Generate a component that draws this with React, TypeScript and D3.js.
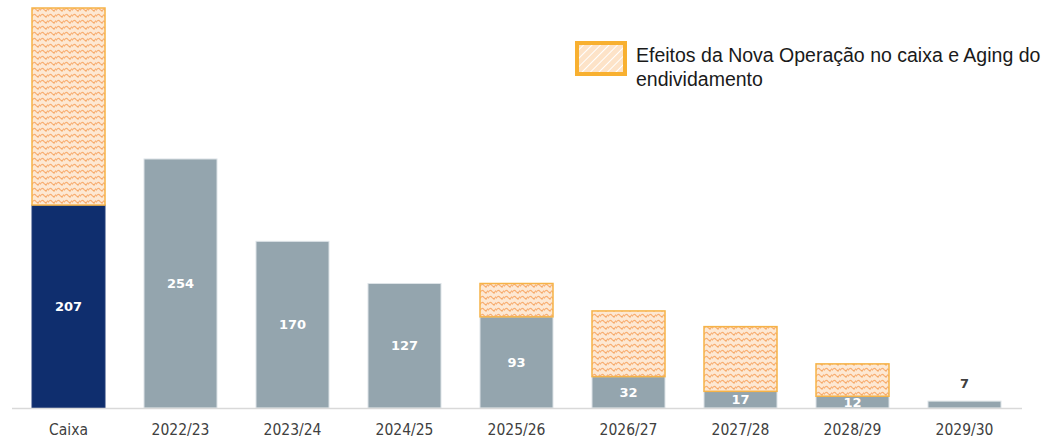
import React from "react";
import * as d3 from "d3";

const categories = ["Caixa", "2022/23", "2023/24", "2024/25", "2025/26", "2026/27", "2027/28", "2028/29", "2029/30"];
const baseValues = [207, 254, 170, 127, 93, 32, 17, 12, 7];
const effectValues = [201, 0, 0, 0, 34, 67, 66, 33, 0];
const legendLines = ["Efeitos da Nova Operação no caixa e Aging do", "endividamento"];

const W = 1048;
const H = 439;
const baseline = 408;

export default function App() {
  const x = d3
    .scaleBand<string>()
    .domain(categories)
    .range([12.5, 12.5 + 9 * 112])
    .paddingInner(39 / 112)
    .paddingOuter(39 / 224);
  const y = d3.scaleLinear().domain([0, 408]).range([baseline, 8]);
  const bw = x.bandwidth();

  return (
    <svg
      width={W}
      height={H}
      style={{ position: "absolute", left: 0, top: 0, display: "block", background: "#fff" }}
    >
      <defs>
        <pattern id="wavy" width="8" height="6" patternUnits="userSpaceOnUse">
          <rect width="8" height="6" fill="#fde8d3" />
          <path d="M0,4.5 Q2,1 4,3.5 T8,2.5" fill="none" stroke="#f8ad70" strokeWidth="1.2" />
          <rect x="5.5" y="4.5" width="1.1" height="1.1" fill="#f39a4c" />
        </pattern>
        <pattern id="legendHatch" width="6" height="6" patternUnits="userSpaceOnUse" patternTransform="rotate(45)">
          <rect width="6" height="6" fill="#fde3c8" />
          <line x1="0" y1="0" x2="0" y2="6" stroke="#ffffff" strokeWidth="2" />
        </pattern>
      </defs>

      {categories.map((c, i) => {
        const x0 = x(c) as number;
        const v = baseValues[i];
        const e = effectValues[i];
        const yTop = y(v);
        const fill = i === 0 ? "#0f2e6e" : "#94a5ae";
        return (
          <g key={c}>
            <rect
              x={x0}
              y={yTop}
              width={bw}
              height={baseline - yTop}
              fill={fill}
              stroke={i === 0 ? "#233c78" : "#dde3e7"}
              strokeWidth={1}
            />
            {e > 0 && (
              <rect
                x={x0}
                y={y(v + e)}
                width={bw}
                height={y(v) - y(v + e)}
                fill="url(#wavy)"
                stroke="#f6b347"
                strokeWidth={1.5}
              />
            )}
          </g>
        );
      })}

      <line x1={12} x2={1022} y1={baseline + 0.5} y2={baseline + 0.5} stroke="#d9d9d9" strokeWidth={1.5} />

      {categories.map((c, i) => {
        const cx = (x(c) as number) + bw / 2;
        const v = baseValues[i];
        const inside = v >= 10;
        const cy = inside ? (y(v) + baseline) / 2 : y(v) - 18;
        return (
          <text
            key={"v" + c}
            x={cx}
            y={cy}
            dy="0.36em"
            textAnchor="middle"
            fontFamily="Verdana, 'DejaVu Sans', sans-serif"
            fontWeight="bold"
            fontSize={13}
            fill={inside ? "#ffffff" : "#404040"}
          >
            {v}
          </text>
        );
      })}

      {categories.map((c) => (
        <text
          key={"l" + c}
          x={(x(c) as number) + bw / 2}
          y={430}
          dy="0.35em"
          textAnchor="middle"
          fontFamily="'DejaVu Sans Condensed', 'Liberation Sans Narrow', sans-serif"
          fontSize={15.5}
          fill="#404040"
        >
          {c}
        </text>
      ))}

      <rect x={577} y={43} width={48} height={31} fill="url(#legendHatch)" stroke="#f8b030" strokeWidth={4} />
      {legendLines.map((t, i) => (
        <text
          key={t}
          x={636}
          y={62 + i * 24}
          fontFamily="Arial, 'Liberation Sans', sans-serif"
          fontSize={19.5}
          fill="#1a1a1a"
        >
          {t}
        </text>
      ))}
    </svg>
  );
}
